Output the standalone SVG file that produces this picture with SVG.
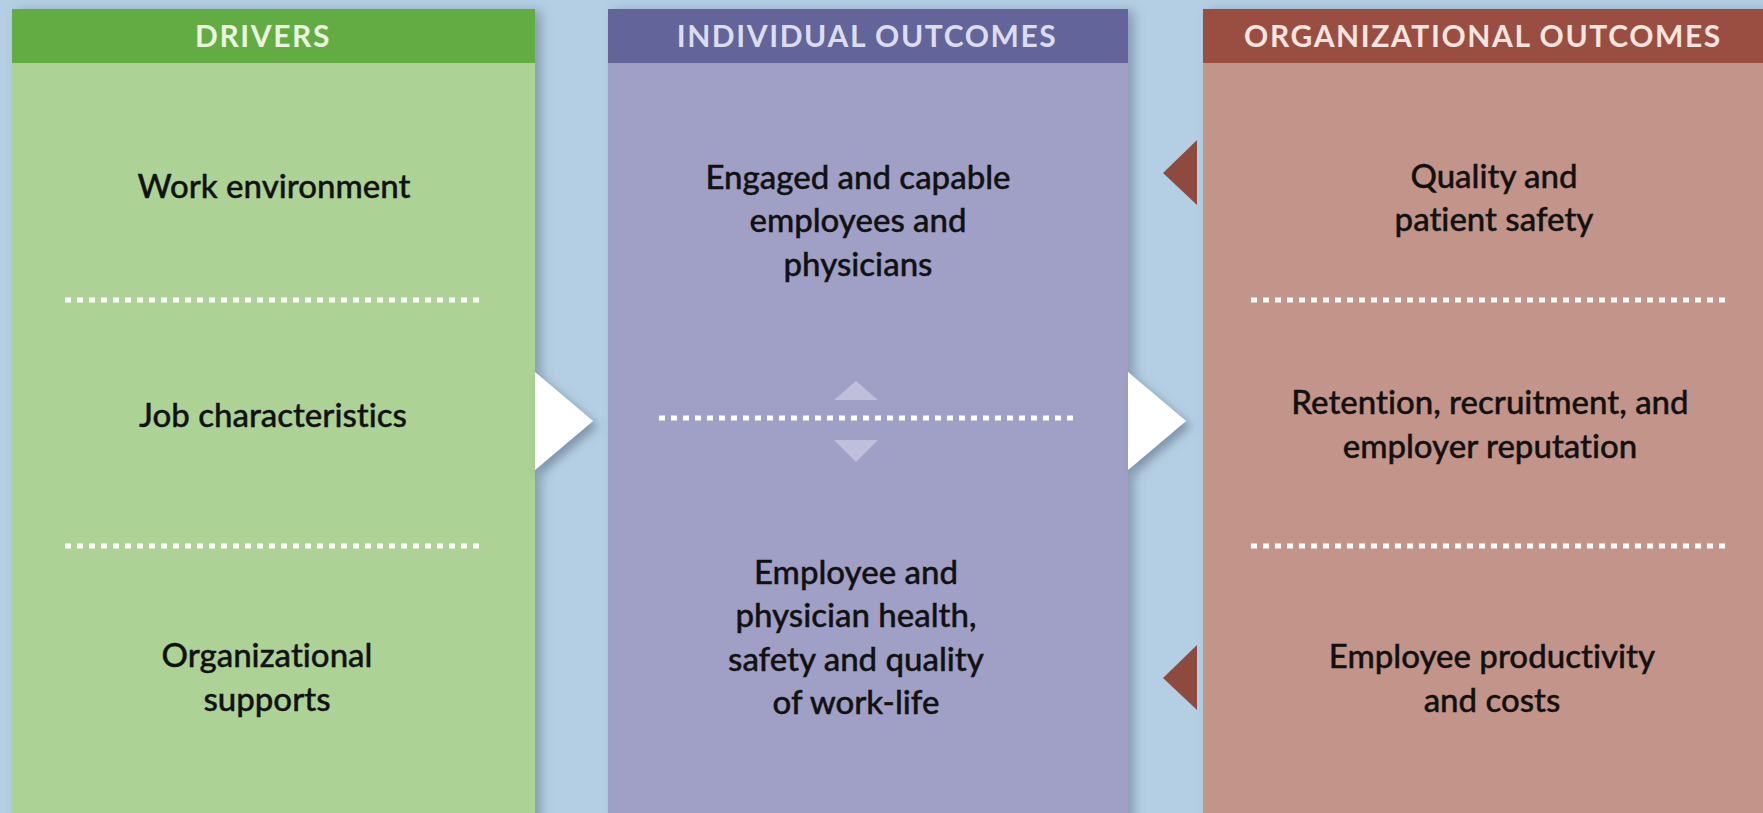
<svg xmlns="http://www.w3.org/2000/svg" width="1763" height="813" viewBox="0 0 1763 813">
<defs>
<style>
.hdr{font-family:"Lato","Open Sans","Liberation Sans",sans-serif;font-weight:700;font-size:30px;letter-spacing:1.6px;text-anchor:middle;font-variant-ligatures:none}
.txt{font-family:"Lato","Noto Sans","Liberation Sans",sans-serif;font-weight:500;font-size:33px;fill:#111;text-anchor:middle;font-variant-ligatures:none;stroke:#111;stroke-width:0.4}
.dots{stroke:#ffffff;stroke-width:5;stroke-dasharray:6 6;fill:none}
</style>
<filter id="sh" x="-10%" y="-10%" width="130%" height="130%">
<feDropShadow dx="6" dy="2" stdDeviation="6" flood-color="#4a5a6e" flood-opacity="0.45"/>
</filter>
<filter id="ash" x="-30%" y="-30%" width="180%" height="180%">
<feDropShadow dx="5" dy="5" stdDeviation="5" flood-color="#4a5a6e" flood-opacity="0.5"/>
</filter>
</defs>
<rect x="0" y="0" width="1763" height="813" fill="#b4cfe4"/>

<g id="col-drivers">
<rect x="12" y="9" width="523" height="820" fill="#add295" filter="url(#sh)"/>
<rect x="12" y="9" width="523" height="54" fill="#63ac44"/>
<text class="hdr" x="263" y="47" fill="#e9f5de">DRIVERS</text>
</g>
<g id="col-individual">
<rect x="608" y="9" width="520" height="820" fill="#a09fc5" filter="url(#sh)"/>
<rect x="608" y="9" width="520" height="54" fill="#636499"/>
<text class="hdr" x="867" y="47" fill="#dcdcef">INDIVIDUAL OUTCOMES</text>
</g>
<g id="col-organizational">
<rect x="1203" y="9" width="580" height="820" fill="#c39489" filter="url(#sh)"/>
<rect x="1203" y="9" width="580" height="54" fill="#9a4e42"/>
<text class="hdr" x="1483" y="47" fill="#f5e4df">ORGANIZATIONAL OUTCOMES</text>
</g>

<g id="dividers">
<line class="dots" x1="65" y1="300" x2="482" y2="300"/>
<line class="dots" x1="65" y1="546" x2="482" y2="546"/>
<line class="dots" x1="659" y1="418" x2="1073" y2="418"/>
<line class="dots" x1="1251" y1="300" x2="1727" y2="300"/>
<line class="dots" x1="1251" y1="546" x2="1727" y2="546"/>
</g>

<g id="node-work-environment"><text class="txt" x="274" y="198">Work environment</text></g>
<g id="node-job-characteristics"><text class="txt" x="273" y="427">Job characteristics</text></g>
<g id="node-organizational-supports"><text class="txt" x="267" y="667">Organizational</text><text class="txt" x="267" y="711">supports</text></g>

<g id="node-engaged"><text class="txt" x="858" y="189">Engaged and capable</text><text class="txt" x="858" y="232">employees and</text><text class="txt" x="858" y="276">physicians</text></g>
<g id="node-health"><text class="txt" x="856" y="584">Employee and</text><text class="txt" x="856" y="627">physician health,</text><text class="txt" x="856" y="671">safety and quality</text><text class="txt" x="856" y="714">of work-life</text></g>

<g id="node-quality"><text class="txt" x="1494" y="188">Quality and</text><text class="txt" x="1494" y="231">patient safety</text></g>
<g id="node-retention"><text class="txt" x="1490" y="414">Retention, recruitment, and</text><text class="txt" x="1490" y="458">employer reputation</text></g>
<g id="node-productivity"><text class="txt" x="1492" y="668">Employee productivity</text><text class="txt" x="1492" y="712">and costs</text></g>

<g id="connectors">
<polygon points="535,372 593,421 535,470" fill="#ffffff" filter="url(#ash)"/>
<polygon points="1128,372 1186,421 1128,470" fill="#ffffff" filter="url(#ash)"/>
<polygon points="856,381 878,400 834,400" fill="#bfbedb"/>
<polygon points="834,440 878,440 856,462" fill="#bfbedb"/>
<polygon points="1197,140 1163,173 1197,205" fill="#8f4a40"/>
<polygon points="1197,645 1163,678 1197,710" fill="#8f4a40"/>
</g>
</svg>
